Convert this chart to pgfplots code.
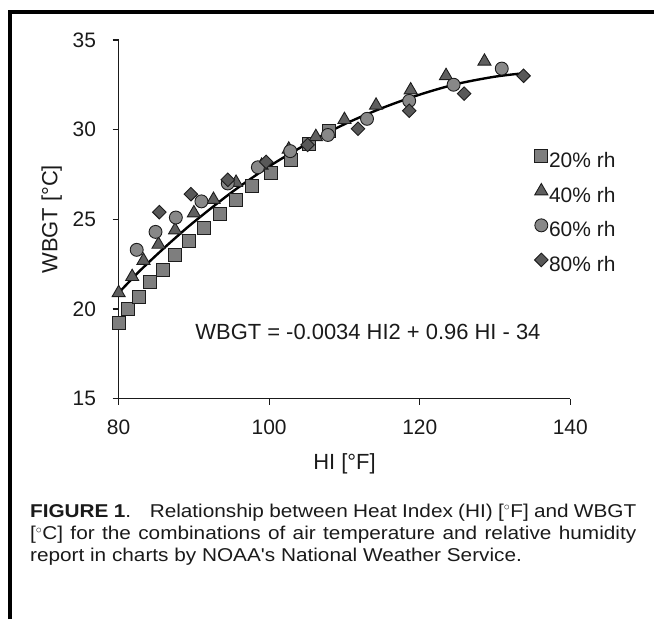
\documentclass[border=0pt]{standalone}
\usepackage{pgfplots}
\pgfplotsset{compat=1.18}
\usepackage{fontspec}
\setmainfont{Liberation Sans}
\newfontfamily\capfont[FakeStretch=1.12]{Liberation Sans}
\definecolor{sqc}{HTML}{7E7E7E}
\definecolor{trc}{HTML}{5F5F5F}
\definecolor{cic}{HTML}{888888}
\definecolor{dic}{HTML}{585858}
\definecolor{edge}{HTML}{1C1C1C}
\definecolor{axc}{HTML}{1A1A1A}
\pgfplotstableread{
x y
80.0 19.2
81.2 20.0
82.7 20.7
84.2 21.5
85.9 22.2
87.5 23.0
89.4 23.8
91.3 24.5
93.4 25.3
95.6 26.1
97.7 26.85
100.2 27.6
102.9 28.3
105.3 29.2
107.9 29.95
}\rhtwenty
\pgfplotstableread{
x y
80.0 20.9
81.8 21.8
83.3 22.7
85.3 23.6
87.5 24.4
90.0 25.35
92.6 26.1
95.6 27.05
99.0 28.0
102.6 28.9
106.2 29.6
110.0 30.55
114.2 31.35
118.8 32.2
123.5 33.0
128.6 33.8
}\rhforty
\pgfplotstableread{
x y
82.4 23.3
84.9 24.3
87.6 25.1
91.0 26.0
94.5 27.0
98.5 27.9
102.8 28.8
107.8 29.7
113.0 30.6
118.6 31.6
124.5 32.5
130.9 33.4
}\rhsixty
\pgfplotstableread{
x y
85.4 25.4
89.6 26.4
94.5 27.2
99.6 28.2
105.1 29.15
111.8 30.05
118.6 31.05
125.9 32.0
133.8 33.0
}\rheighty
\pgfplotstableread{
x y
80 20.9
82.5 22.0
85 23.0
87.5 23.95
90 24.85
95 26.5
100 27.95
105 29.2
110 30.3
115 31.2
120 31.95
125 32.55
130 32.95
134 33.15
}\trend
\begin{document}
\begin{tikzpicture}[x=1pt,y=1pt]
\path (0,0) rectangle (656,621);
\draw[line width=4pt] (10,0) -- (10,609) -- (656,609);
\begin{axis}[
  at={(119pt,221pt)}, anchor=south west,
  scale only axis, width=453pt, height=360pt,
  xmin=80, xmax=140, ymin=15, ymax=35,
  xtick={80,100,120,140}, ytick={15,20,25,30,35},
  axis x line*=bottom, axis y line*=left,
  axis line style={line width=1.3pt, axc, -},
  major tick style={line width=1.3pt, axc},
  tick align=outside, major tick length=6pt,
  /pgf/number format/assume math mode=true,
  ticklabel style={font=\fontsize{21}{25}\selectfont, text=axc, inner sep=0pt},
  xticklabel style={anchor=north, yshift=-14.5pt},
  yticklabel style={anchor=east, xshift=-16.5pt},
  xlabel={HI [°F]}, ylabel={WBGT [°C]},
  label style={font=\fontsize{22}{26}\selectfont, text=axc, inner sep=0pt},
  xlabel style={at={(axis description cs:0.5,-0.196)}, anchor=base},
  ylabel style={at={(axis description cs:-0.148,0.5)}, anchor=center, rotate=0},
  legend style={at={(axis description cs:0.9205,0.696)}, anchor=north west,
    draw=none, fill=none, inner sep=0pt, row sep=11.4pt,
    font=\fontsize{21}{25}\selectfont, text=axc,
    nodes={inner sep=1pt, text height=15pt, text depth=4pt},
    /tikz/every even column/.append style={column sep=7pt}},
  legend cell align=left,
  legend image code/.code={\draw[#1] plot coordinates {(0pt,6pt)};},
  clip=false,
]
\addplot[only marks, mark=square*, mark size=6.5pt,
  mark options={fill=sqc, draw=edge, line width=0.9pt}] table {\rhtwenty};
\addlegendentry{20\% rh}
\addplot[only marks, mark=triangle*, mark size=7.6pt,
  mark options={fill=trc, draw=edge, line width=0.9pt}] table {\rhforty};
\addlegendentry{40\% rh}
\addplot[only marks, mark=*, mark size=6.5pt,
  mark options={fill=cic, draw=edge, line width=0.9pt}] table {\rhsixty};
\addlegendentry{60\% rh}
\addplot[only marks, mark=square*, mark size=4.8pt,
  mark options={fill=dic, draw=edge, line width=0.9pt, rotate=45}] table {\rheighty};
\addlegendentry{80\% rh}
\addplot[no marks, smooth, line width=2.4pt, black, forget plot] table {\trend};
\node[anchor=base, font=\fontsize{22}{26}\selectfont, text=axc, inner sep=0pt]
  at (axis description cs:0.552,0.165) {WBGT = -0.0034 HI2 + 0.96 HI - 34};
\end{axis}
\node[anchor=base west, text width=608pt, align=justify, inner sep=0pt,
  font=\capfont\fontsize{18.6}{22.5}\selectfont, text=axc] at (30,102.4)
  {\textbf{FIGURE 1}.\hspace{0.6em} Relationship between Heat Index (HI) [$^\circ$F] and WBGT\linebreak{}
  [$^\circ$C] for the combinations of air temperature and relative humidity\linebreak{}
  report in charts by NOAA's National Weather Service.};
\end{tikzpicture}
\end{document}
